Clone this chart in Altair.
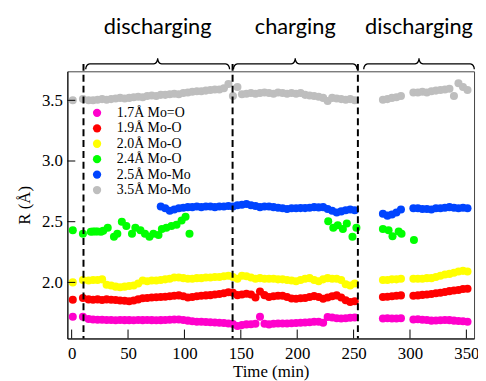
import math
import altair as alt
import pandas as pd

# ---------------- data ----------------
labels = ["1.7Å Mo=O", "1.9Å Mo-O", "2.0Å Mo-O", "2.4Å Mo-O", "2.5Å Mo-Mo", "3.5Å Mo-Mo"]
colors = ["#FF00CC", "#FF0000", "#FFFF00", "#00FF00", "#0044FF", "#BEBEBE"]

times = [1, 10,
         15, 19, 23, 27, 31, 35, 39, 43, 47, 51,
         55, 59, 63, 67, 71, 75, 79, 83, 87, 91,
         95, 99, 103, 107, 111, 115, 119, 123, 127, 131,
         135, 139, 143, 147, 151, 155, 159, 163, 167, 171,
         175, 179, 183, 187, 191, 195, 199, 203, 207, 211,
         215, 219, 223, 227, 231, 235, 239, 243, 247, 251,
         276, 280, 284, 288, 292,
         303, 307, 311, 315, 319, 323, 327, 331, 335, 339, 343, 347, 351]

mo_o_17 = [1.717, 1.717,
           1.698, 1.695, 1.693, 1.692, 1.690, 1.690, 1.688, 1.690, 1.689, 1.689,
           1.688, 1.690, 1.689, 1.690, 1.689, 1.688, 1.689, 1.690, 1.692, 1.694,
           1.695, 1.690, 1.685, 1.680, 1.676, 1.675, 1.673, 1.672, 1.670, 1.668,
           1.665, 1.662, 1.658, 1.640, 1.648, 1.654, 1.656, 1.660, 1.717, 1.660,
           1.654, 1.660, 1.662, 1.662, 1.662, 1.664, 1.665, 1.668, 1.670, 1.672,
           1.675, 1.676, 1.668, 1.715, 1.710, 1.705, 1.703, 1.705, 1.708, 1.711,
           1.703, 1.704, 1.702, 1.703, 1.704,
           1.695, 1.697, 1.692, 1.690, 1.685, 1.686, 1.688, 1.690, 1.689, 1.685, 1.682, 1.680, 1.676]

mo_o_19 = [1.857, 1.871,
           1.860, 1.857, 1.860, 1.855, 1.860, 1.857, 1.855, 1.850, 1.848, 1.845,
           1.850, 1.860, 1.870, 1.872, 1.875, 1.878, 1.880, 1.882, 1.885, 1.890,
           1.893, 1.885, 1.875, 1.880, 1.885, 1.890, 1.893, 1.895, 1.900, 1.905,
           1.910, 1.918, 1.915, 1.895, 1.900, 1.907, 1.900, 1.875, 1.925, 1.895,
           1.880, 1.885, 1.890, 1.890, 1.880, 1.868, 1.866, 1.870, 1.872, 1.880,
           1.887, 1.880, 1.866, 1.875, 1.885, 1.893, 1.875, 1.852, 1.838, 1.845,
           1.880, 1.882, 1.885, 1.890, 1.893,
           1.890, 1.893, 1.897, 1.900, 1.905, 1.910, 1.915, 1.920, 1.928, 1.933, 1.938, 1.945, 1.947]

mo_o_20 = [2.000, 2.020,
           2.015, 2.020, 2.020, 2.025, 1.980, 1.975, 1.965, 1.960, 1.965, 1.970,
           1.975, 1.990, 2.015, 2.010, 2.015, 2.015, 2.020, 2.025, 2.030, 2.040,
           2.040, 2.035, 2.030, 2.030, 2.035, 2.035, 2.040, 2.040, 2.045, 2.045,
           2.050, 2.055, 2.045, 2.030, 2.055, 2.050, 2.040, 2.030, 2.035, 2.030,
           2.030, 2.030, 2.025, 2.025, 2.020, 2.015, 2.010, 2.020, 2.030, 2.035,
           2.020, 2.010, 2.025, 2.035, 2.030, 2.030, 2.020, 1.985, 1.975, 1.990,
           2.020, 2.020, 2.025, 2.025, 2.030,
           2.030, 2.030, 2.030, 2.035, 2.035, 2.045, 2.055, 2.065, 2.070, 2.080, 2.090, 2.095, 2.090]

mo_mo_25 = [None, None,
            None, None, None, None, None, None, None, None, None, None,
            None, None, None, None, None, None, 2.625, 2.610, 2.590, 2.600,
            2.610, 2.615, 2.620, 2.620, 2.625, 2.620, 2.625, 2.625, 2.620, 2.625,
            2.625, 2.630, 2.625, 2.635, 2.640, 2.645, 2.635, 2.630, 2.620, 2.625,
            2.625, 2.620, 2.615, 2.610, 2.605, 2.610, 2.610, 2.612, 2.612, 2.615,
            2.620, 2.618, 2.620, 2.605, 2.590, 2.575, 2.585, 2.595, 2.600, 2.595,
            2.565, 2.550, 2.560, 2.575, 2.600,
            2.610, 2.610, 2.605, 2.605, 2.600, 2.610, 2.610, 2.615, 2.620, 2.615, 2.610, 2.615, 2.610]

mo_mo_35 = [3.500, 3.510,
            3.500, 3.500, 3.505, 3.510, 3.505, 3.510, 3.515, 3.520, 3.515, 3.520,
            3.525, 3.530, 3.525, 3.535, 3.540, 3.535, 3.545, 3.545, 3.550, 3.555,
            3.550, 3.560, 3.565, 3.570, 3.575, 3.575, 3.580, 3.585, 3.590, 3.590,
            3.600, 3.635, 3.535, 3.610, 3.550, 3.555, 3.560, 3.555, 3.560, 3.565,
            3.560, 3.555, 3.565, 3.560, 3.555, 3.560, 3.555, 3.560, 3.545, 3.540,
            3.535, 3.530, 3.520, 3.495, 3.520, 3.515, 3.510, 3.505, 3.510, 3.500,
            3.505, 3.510, 3.520, 3.525, 3.535,
            3.565, 3.565, 3.570, 3.565, 3.575, 3.580, 3.585, 3.590, 3.595, 3.535, 3.640, 3.610, 3.585]

green_t = [1, 10, 17, 19, 21, 23, 26, 28, 32, 37.5, 40.5, 44.5, 48.5, 53.5, 56.5, 61, 65, 69,
           72.5, 77, 80, 84, 88.5, 93, 97.5, 101, 104.5,
           227.5, 232, 236, 240.5, 244, 249, 252.5,
           276, 281, 284.5, 290, 292.5, 303.5]
green_v = [2.43, 2.40, 2.417, 2.42, 2.42, 2.42, 2.417, 2.425, 2.45, 2.376, 2.40, 2.50, 2.465, 2.40, 2.45, 2.43, 2.40, 2.376,
           2.40, 2.39, 2.44, 2.45, 2.465, 2.475, 2.51, 2.54, 2.40,
           2.503, 2.45, 2.47, 2.44, 2.485, 2.376, 2.45,
           2.44, 2.43, 2.38, 2.42, 2.40, 2.35]

phase_names = ["discharging", "charging", "discharging"]
phase_start = [12.5, 143.5, 259.0]
phase_end = [140.0, 253.0, 357.0]
boundaries = [10.5, 142.7, 253.8]

x_ticks = [0, 50, 100, 150, 200, 250, 300, 350]
y_ticks = [2.0, 2.5, 3.0, 3.5]

X_DOM = [-3.8, 356.8]
Y_DOM = [1.538, 3.739]

# ---------------- tables ----------------
rows = []
for name, vals in zip([labels[0], labels[1], labels[2], labels[4], labels[5]],
                      [mo_o_17, mo_o_19, mo_o_20, mo_mo_25, mo_mo_35]):
    for t, v in zip(times, vals):
        if v is not None:
            rows.append({"t": t, "v": v, "s": name})
for t, v in zip(green_t, green_v):
    rows.append({"t": t, "v": v, "s": labels[3]})
df = pd.DataFrame(rows)

# brace outlines built from the phase ranges
y_end, y_mid, y_tip = 3.756, 3.800, 3.846
r = 3.6
brace_rows = []
for i, (a, b) in enumerate(zip(phase_start, phase_end)):
    m = (a + b) / 2
    pts = []
    n = 6
    for k in range(n + 1):
        th = math.pi / 2 * k / n
        pts.append((a + r * (1 - math.cos(th)), y_end + (y_mid - y_end) * math.sin(th)))
    for k in range(n + 1):
        ph = math.pi / 2 * k / n
        pts.append((m - r + r * math.sin(ph), y_mid + (y_tip - y_mid) * (1 - math.cos(ph))))
    for k in range(n + 1):
        ph = math.pi / 2 * (n - k) / n
        pts.append((m + r - r * math.sin(ph), y_mid + (y_tip - y_mid) * (1 - math.cos(ph))))
    for k in range(n + 1):
        th = math.pi / 2 * (n - k) / n
        pts.append((b - r * (1 - math.cos(th)), y_end + (y_mid - y_end) * math.sin(th)))
    for j, (x, y) in enumerate(pts):
        brace_rows.append({"t": x, "v": y, "g": i, "o": j})
braces = pd.DataFrame(brace_rows)

phase_df = pd.DataFrame({"t": [(a + b) / 2 for a, b in zip(phase_start, phase_end)],
                         "v": [4.045] * 3, "name": phase_names})
bound_df = pd.DataFrame({"t": boundaries, "v": [3.80] * 3, "v2": [Y_DOM[0]] * 3})
xt_df = pd.DataFrame({"t": x_ticks, "v": [Y_DOM[0]] * len(x_ticks),
                      "v2": [Y_DOM[0] + 9 / 122.8] * len(x_ticks)})
yt_df = pd.DataFrame({"v": y_ticks, "t": [X_DOM[0]] * len(y_ticks),
                      "t2": [X_DOM[0] + 8 / 1.14] * len(y_ticks)})

xs = alt.Scale(domain=X_DOM, nice=False, zero=False)
ys = alt.Scale(domain=Y_DOM, nice=False, zero=False)
SERIF = "Liberation Serif"

x_axis = alt.Axis(values=x_ticks, ticks=False, tickSize=0, grid=False, labelPadding=7,
                  labelFont=SERIF, labelFontSize=17, labelColor="black",
                  titleFont=SERIF, titleFontSize=17, titleFontWeight="normal",
                  titleColor="black", titlePadding=2, domainColor="black")
y_axis = alt.Axis(values=y_ticks, format=".1f", ticks=False, tickSize=0, grid=False,
                  labelPadding=5, labelFont=SERIF, labelFontSize=17, labelColor="black",
                  titleFont=SERIF, titleFontSize=17, titleFontWeight="normal",
                  titleColor="black", titlePadding=8, domainColor="black")


def X(field="t"):
    return alt.X(f"{field}:Q", scale=xs, axis=x_axis, title="Time (min)")


def Y(field="v"):
    return alt.Y(f"{field}:Q", scale=ys, axis=y_axis, title="R (Å)")


points = alt.Chart(df).mark_circle(size=66, opacity=1).encode(
    x=X(), y=Y(),
    color=alt.Color("s:N", sort=labels,
                    scale=alt.Scale(domain=labels, range=colors),
                    legend=alt.Legend(orient="none", legendX=23, legendY=35, title=None,
                                      labelFont=SERIF, labelFontSize=14, labelColor="black",
                                      symbolType="circle", symbolSize=70, symbolStrokeWidth=0,
                                      rowPadding=1.6, padding=0, labelOffset=13, labelLimit=300)),
)

brace_layer = alt.Chart(braces).mark_line(color="black", strokeWidth=1.3, clip=False).encode(
    x=X(), y=Y(), detail="g:N", order="o:Q",
)

text_layer = alt.Chart(phase_df).mark_text(font="Lato", fontSize=22, baseline="alphabetic",
                                           align="center", color="black", clip=False).encode(
    x=X(), y=Y(), text="name:N",
)

bound_layer = alt.Chart(bound_df).mark_rule(color="black", strokeWidth=2, strokeDash=[7, 4],
                                            clip=False).encode(
    x=X(), y=Y(), y2="v2:Q",
)

xtick_layer = alt.Chart(xt_df).mark_rule(color="black", strokeWidth=1).encode(
    x=X(), y=Y(), y2="v2:Q",
)

ytick_layer = alt.Chart(yt_df).mark_rule(color="black", strokeWidth=1).encode(
    y=Y(), x=X(), x2="t2:Q",
)

chart = alt.layer(points, bound_layer, brace_layer, text_layer, xtick_layer, ytick_layer).properties(
    width=411, height=270,
    autosize=alt.AutoSizeParams(type="none"),
    padding={"left": 60, "top": 62, "right": 4, "bottom": 41},
    background="white",
).configure_view(stroke="#444444", strokeWidth=1)

chart.save("out.html", embed_options={"renderer": "svg", "actions": False})
